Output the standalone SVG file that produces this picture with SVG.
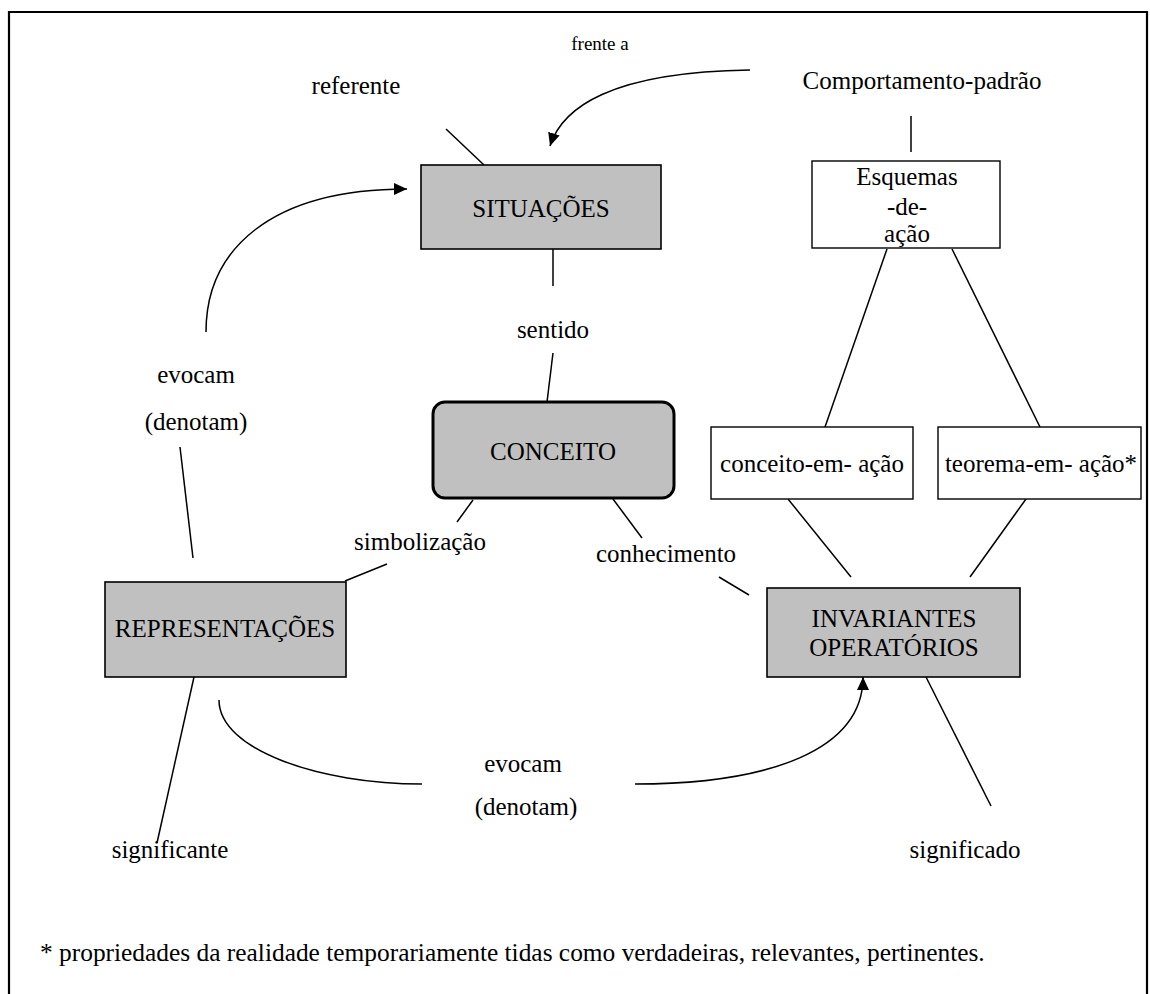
<svg xmlns="http://www.w3.org/2000/svg" width="1150" height="994" viewBox="0 0 1150 994">
<style>
text{font-size:25px;fill:#000;text-anchor:middle}
text.start{text-anchor:start;font-size:25.4px}
text.small{font-size:19px}
.box{fill:#c0c0c0;stroke:#000;stroke-width:1.6}
.wbox{fill:#fff;stroke:#000;stroke-width:1.4}
.ln{fill:none;stroke:#000;stroke-width:1.5}
</style>
<defs>
<marker id="ah" markerUnits="userSpaceOnUse" markerWidth="14" markerHeight="12" refX="13" refY="6" orient="auto">
<path d="M0,0 L13,6 L0,12 z" fill="#000"/>
</marker>
</defs>
<rect width="1150" height="994" fill="#fff"/>
<path d="M9,994 V12 H1147 V994" fill="none" stroke="#000" stroke-width="2.2"/>
<g id="connectors">
<line class="ln" x1="446" y1="129" x2="484" y2="165"/>
<path class="ln" d="M750,70 C610,72 562,108 550,146" marker-end="url(#ah)"/>
<line class="ln" x1="911" y1="116" x2="911" y2="152"/>
<line class="ln" x1="553" y1="249" x2="553" y2="286"/>
<line class="ln" x1="553" y1="353" x2="547" y2="402"/>
<line class="ln" x1="887" y1="249" x2="825" y2="427"/>
<line class="ln" x1="952" y1="249" x2="1040" y2="427"/>
<line class="ln" x1="788" y1="499" x2="851" y2="577"/>
<line class="ln" x1="1026" y1="499" x2="970" y2="577"/>
<line class="ln" x1="473" y1="500" x2="457" y2="522"/>
<line class="ln" x1="345" y1="581" x2="387" y2="564"/>
<line class="ln" x1="613" y1="499" x2="642" y2="538"/>
<line class="ln" x1="719" y1="577" x2="749" y2="595"/>
<line class="ln" x1="180" y1="447" x2="193" y2="558"/>
<path class="ln" d="M206,332 C206,250 270,189 407,189" marker-end="url(#ah)"/>
<line class="ln" x1="194" y1="677" x2="157" y2="843"/>
<line class="ln" x1="926" y1="677" x2="991" y2="806"/>
<path class="ln" d="M219,700 C219,750 320,784 422,784"/>
<path class="ln" d="M635,784 C770,784 863,750 863,677" marker-end="url(#ah)"/>
</g>
<g font-family="'Liberation Serif', 'DejaVu Serif', serif">
<g id="situacoes">
<rect class="box" x="421" y="165" width="240" height="84"/>
<text x="541" y="217">SITUAÇÕES</text>
</g>
<g id="esquemas">
<rect class="wbox" x="812" y="161" width="188" height="87"/>
<text x="907" y="185">Esquemas</text>
<text x="907" y="215">-de-</text>
<text x="907" y="242">ação</text>
</g>
<g id="conceito">
<rect x="433" y="402" width="241" height="96" rx="12" fill="#c0c0c0" stroke="#000" stroke-width="3"/>
<text x="553" y="460">CONCEITO</text>
</g>
<g id="conceito-em-acao">
<rect class="wbox" x="711" y="427" width="202" height="72"/>
<text x="812" y="472">conceito-em- ação</text>
</g>
<g id="teorema-em-acao">
<rect class="wbox" x="938" y="427" width="203" height="72"/>
<text x="1041" y="472">teorema-em- ação*</text>
</g>
<g id="representacoes">
<rect class="box" x="105" y="582" width="241" height="95"/>
<text x="225" y="637">REPRESENTAÇÕES</text>
</g>
<g id="invariantes">
<rect class="box" x="767" y="588" width="253" height="89"/>
<text x="894" y="627">INVARIANTES</text>
<text x="894" y="656">OPERATÓRIOS</text>
</g>
<g id="labels">
<text class="small" x="600" y="50">frente a</text>
<text x="356" y="94">referente</text>
<text x="922" y="89">Comportamento-padrão</text>
<text x="553" y="338">sentido</text>
<text x="196" y="383">evocam</text>
<text x="196" y="430">(denotam)</text>
<text x="420" y="550">simbolização</text>
<text x="666" y="562">conhecimento</text>
<text x="523" y="772">evocam</text>
<text x="526" y="815">(denotam)</text>
<text x="170" y="858">significante</text>
<text x="965" y="858">significado</text>
<text class="start" x="40" y="961">* propriedades da realidade temporariamente tidas como verdadeiras, relevantes, pertinentes.</text>
</g>
</g>
</svg>
